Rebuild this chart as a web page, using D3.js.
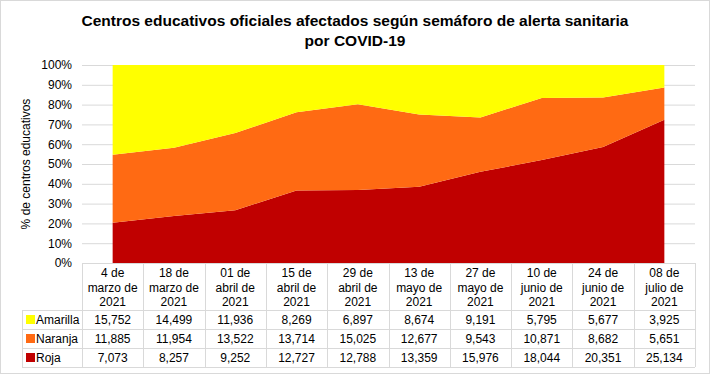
<!DOCTYPE html>
<html>
<head>
<meta charset="utf-8">
<script src="https://cdn.jsdelivr.net/npm/d3@7"></script>
<style>
  body { margin: 0; background: #fff; }
  svg { font-family: "Liberation Sans", Arial, sans-serif; }
</style>
</head>
<body>
<div id="chart"></div>
<script>
'use strict';

var fechas = [
  ['4 de', 'marzo de', '2021'],
  ['18 de', 'marzo de', '2021'],
  ['01 de', 'abril de', '2021'],
  ['15 de', 'abril de', '2021'],
  ['29 de', 'abril de', '2021'],
  ['13 de', 'mayo de', '2021'],
  ['27 de', 'mayo de', '2021'],
  ['10 de', 'junio de', '2021'],
  ['24 de', 'junio de', '2021'],
  ['08 de', 'julio de', '2021']
];
var amarilla = [15752, 14499, 11936, 8269, 6897, 8674, 9191, 5795, 5677, 3925];
var naranja = [11885, 11954, 13522, 13714, 15025, 12677, 9543, 10871, 8682, 5651];
var roja = [7073, 8257, 9252, 12727, 12788, 13359, 15976, 18044, 20351, 25134];
var series = [
  { key: 'roja', name: 'Roja', color: '#c00000', values: roja },
  { key: 'naranja', name: 'Naranja', color: '#ff6a13', values: naranja },
  { key: 'amarilla', name: 'Amarilla', color: '#ffff00', values: amarilla }
];
var yTicks = d3.range(0, 1.01, 0.1);

var width = 710, height = 375,
    plot = { left: 82, right: 695, top: 65, bottom: 263 },
    tableRows = [310, 329, 348, 367],
    legendLeft = 22,
    gridColor = '#d9d9d9';

var rows = fechas.map(function (f, i) {
  return { i: i, roja: roja[i], naranja: naranja[i], amarilla: amarilla[i] };
});

var stack = d3.stack().keys(['roja', 'naranja', 'amarilla']).offset(d3.stackOffsetExpand);
var layers = stack(rows);

var x = d3.scaleBand().domain(d3.range(fechas.length)).range([plot.left, plot.right]);
var y = d3.scaleLinear().domain([0, 1]).range([plot.bottom, plot.top]);

var svg = d3.select('#chart').append('svg').attr('width', width).attr('height', height);

svg.append('rect').attr('x', 0.5).attr('y', 0.5).attr('width', width - 1).attr('height', height - 2)
  .attr('fill', '#fff').attr('stroke', gridColor);

// title
var title = svg.append('text').attr('text-anchor', 'middle').attr('font-weight', 'bold')
  .attr('font-size', 15.5).attr('fill', '#000');
title.append('tspan').attr('x', 355).attr('y', 26).text('Centros educativos oficiales  afectados según semáforo de alerta sanitaria');
title.append('tspan').attr('x', 355).attr('y', 46).text('por COVID-19');

// gridlines
var yAxis = d3.axisLeft(y).tickValues(yTicks).tickFormat(d3.format('.0%'))
  .tickSize(-(plot.right - plot.left)).tickPadding(10);
var gy = svg.append('g').attr('transform', 'translate(' + plot.left + ',0)').call(yAxis);
gy.select('.domain').remove();
gy.selectAll('.tick line').attr('stroke', gridColor);
gy.selectAll('.tick text').attr('font-size', 12).attr('fill', '#000')
  .attr('font-family', '"Liberation Sans", Arial, sans-serif');

// areas
var area = d3.area()
  .x(function (d) { return x(d.data.i) + x.bandwidth() / 2; })
  .y0(function (d) { return y(d[0]); })
  .y1(function (d) { return y(d[1]); });

svg.append('g').selectAll('path').data(layers).enter().append('path')
  .attr('d', area)
  .attr('fill', function (d, i) { return series[i].color; });

// y label
svg.append('text').attr('transform', 'translate(30,' + ((plot.top + plot.bottom) / 2) + ') rotate(-90)')
  .attr('text-anchor', 'middle').attr('font-size', 12).text('% de centros educativos');

// data table
var table = svg.append('g').attr('stroke', gridColor).attr('shape-rendering', 'crispEdges');
table.append('line').attr('x1', plot.left).attr('x2', plot.right).attr('y1', plot.bottom + 0.5).attr('y2', plot.bottom + 0.5);
tableRows.forEach(function (ry) {
  table.append('line').attr('x1', legendLeft).attr('x2', plot.right).attr('y1', ry + 0.5).attr('y2', ry + 0.5);
});
table.append('line').attr('x1', legendLeft + 0.5).attr('x2', legendLeft + 0.5)
  .attr('y1', tableRows[0]).attr('y2', tableRows[3]);
d3.range(fechas.length + 1).forEach(function (i) {
  var xx = i < fechas.length ? x(i) : plot.right;
  table.append('line').attr('x1', Math.round(xx) + 0.5).attr('x2', Math.round(xx) + 0.5)
    .attr('y1', plot.bottom).attr('y2', tableRows[3]);
});

// header text
var head = svg.append('g').attr('font-size', 12).attr('text-anchor', 'middle');
fechas.forEach(function (f, i) {
  var t = head.append('text');
  f.forEach(function (line, j) {
    t.append('tspan').attr('x', x(i) + x.bandwidth() / 2).attr('y', 277 + j * 14.5).text(line);
  });
});

// rows: Amarilla, Naranja, Roja
var fmt = d3.format(',');
series.slice().reverse().forEach(function (s, r) {
  var top = tableRows[r], mid = top + 14;
  svg.append('rect').attr('x', 26).attr('y', top + 5).attr('width', 9).attr('height', 9).attr('fill', s.color);
  svg.append('text').attr('x', 36).attr('y', mid).attr('font-size', 12).text(s.name);
  s.values.forEach(function (v, i) {
    svg.append('text').attr('x', x(i) + x.bandwidth() / 2).attr('y', mid)
      .attr('text-anchor', 'middle').attr('font-size', 12).text(fmt(v));
  });
});
</script>
</body>
</html>
